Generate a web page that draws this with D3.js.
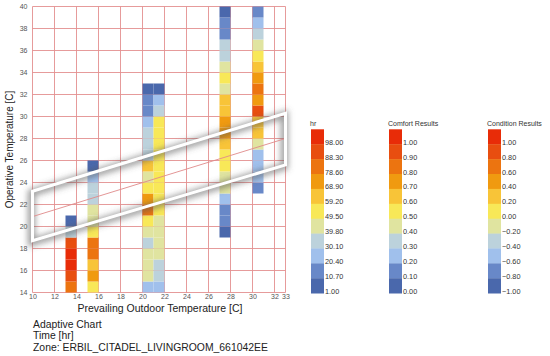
<!DOCTYPE html>
<html><head><meta charset="utf-8">
<script src="https://cdn.jsdelivr.net/npm/d3@7"></script>
<style>
body{margin:0;background:#fff;}
text{font-family:"Liberation Sans",Arial,sans-serif;}
</style></head>
<body><svg id="chart" width="550" height="356"></svg>
<script>
// ---- data ----
const outdoorBins = [13, 15, 20, 21, 27, 30];          // prevailing outdoor temp bin start [C]
const operativeStart = [14, 14, 14, 14, 19, 23];       // operative temp of lowest cell [C]
const hoursByColumn = [
  [79, 88, 98, 98, 88, 30, 1],
  [50, 69, 59, 79, 79, 50, 40, 40, 30, 30, 20, 1],
  [20, 38, 40, 40, 30, 40, 50, 79, 69, 50, 40, 59, 30, 30, 30, 20, 11, 11, 1],
  [20, 30, 30, 40, 40, 42, 40, 50, 50, 50, 50, 50, 50, 50, 50, 50, 32, 20, 1],
  [1, 11, 11, 20, 40, 40, 50, 50, 59, 69, 69, 59, 59, 42, 50, 40, 30, 30, 11, 11, 1],
  [11, 20, 20, 20, 40, 59, 59, 88, 69, 79, 69, 59, 50, 40, 30, 20, 11]
];
const comfortOutdoor = [10, 33];
const comfortUpper = [23.2, 30.3];
const comfortLower = [18.7, 25.6];
const comfortNeutral = [20.9, 28.0];
const xTickValues = [10, 12, 14, 16, 18, 20, 22, 24, 26, 28, 30, 32, 33];
const yTickValues = [14, 16, 18, 20, 22, 24, 26, 28, 30, 32, 34, 36, 38, 40];
const hrTicks = [1.00, 10.70, 20.40, 30.10, 39.80, 49.50, 59.20, 68.90, 78.60, 88.30, 98.00];
const comfortTicks = ["0.00","0.10","0.20","0.30","0.40","0.50","0.60","0.70","0.80","0.90","1.00"];
const conditionTicks = ["\u22121.00","\u22120.80","\u22120.60","\u22120.40","\u22120.20","0.00","0.20","0.40","0.60","0.80","1.00"];
const palette = ["#4a68ac","#6888c8","#a0c0ec","#bcd2dc","#e0e4a0","#f8e858","#f8c438","#f09a10","#ec7410","#e84e10","#e82c08"];

// ---- chart ----
const svg = d3.select("#chart");
svg.append("rect").attr("width",550).attr("height",356).attr("fill","#fff");
const x = d3.scaleLinear().domain([10,33]).range([32.5,285.5]);
const y = d3.scaleLinear().domain([14,40]).range([292.5,6.5]);
const thresholds = d3.pairs(hrTicks).map(([a,b]) => (a+b)/2);
const color = d3.scaleThreshold().domain(thresholds).range(palette);
const gridColor = "#e39090";

// grid
const grid = svg.append("g");
grid.selectAll("line.v").data(xTickValues).join("line")
  .attr("x1",d=>x(d)).attr("x2",d=>x(d)).attr("y1",y(14)).attr("y2",y(40))
  .attr("stroke",gridColor).attr("stroke-width",0.9);
grid.selectAll("line.h").data(yTickValues).join("line")
  .attr("x1",x(10)).attr("x2",x(33)).attr("y1",d=>y(d)).attr("y2",d=>y(d))
  .attr("stroke",gridColor).attr("stroke-width",0.9);

// cells
const cells = [];
outdoorBins.forEach((ob,i) => hoursByColumn[i].forEach((h,j) => cells.push({ob, op: operativeStart[i]+j, h})));
svg.append("g").selectAll("rect").data(cells).join("rect")
  .attr("x",d=>x(d.ob)).attr("width",d=>x(d.ob+1)-x(d.ob))
  .attr("y",d=>y(d.op+1)).attr("height",d=>y(d.op)-y(d.op+1))
  .attr("fill",d=>color(d.h));

// comfort polygon
const defs = svg.append("defs");
defs.append("filter").attr("id","blur").attr("x","-20%").attr("y","-20%").attr("width","140%").attr("height","140%")
  .append("feGaussianBlur").attr("stdDeviation",3.2);
const poly = [
  [comfortOutdoor[0],comfortUpper[0]],[comfortOutdoor[1],comfortUpper[1]],
  [comfortOutdoor[1],comfortLower[1]],[comfortOutdoor[0],comfortLower[0]]
];
const line = d3.line().x(d=>x(d[0])).y(d=>y(d[1]));
svg.append("path").attr("d",line(poly)+"Z").attr("fill","none")
  .attr("stroke","#555").attr("stroke-opacity",0.6).attr("stroke-width",7)
  .attr("filter","url(#blur)").attr("transform","translate(-1,1.5)");
svg.append("path").attr("d",line(comfortOutdoor.map((o,i)=>[o,comfortNeutral[i]])))
  .attr("stroke","#e08a8a").attr("stroke-width",0.9).attr("fill","none");
svg.append("path").attr("d",line(poly)+"Z").attr("fill","none")
  .attr("stroke","#fff").attr("stroke-width",3).attr("stroke-linejoin","miter");

// axes
const xAxis = svg.append("g").attr("transform",`translate(0,${y(14)})`)
  .call(d3.axisBottom(x).tickValues(xTickValues).tickSize(0).tickPadding(2).tickFormat(d3.format("d")));
const yAxis = svg.append("g").attr("transform",`translate(${x(10)},0)`)
  .call(d3.axisLeft(y).tickValues(yTickValues).tickSize(0).tickPadding(5).tickFormat(d3.format("d")));
[xAxis,yAxis].forEach(a=>{a.select(".domain").remove();
  a.selectAll("text").attr("font-size",7).attr("fill","#555").attr("font-family","Liberation Sans, Arial, sans-serif");});

svg.append("text").attr("transform",`translate(13,${(y(14)+y(40))/2}) rotate(-90)`)
  .attr("text-anchor","middle").attr("font-size",10).attr("fill","#222").text("Operative Temperature [C]");
svg.append("text").attr("x",160).attr("y",312).attr("text-anchor","middle")
  .attr("font-size",10.5).attr("fill","#222").text("Prevailing Outdoor Temperature [C]");
["Adaptive Chart","Time [hr]","Zone: ERBIL_CITADEL_LIVINGROOM_661042EE"].forEach((t,i)=>
  svg.append("text").attr("x",33).attr("y",328+i*11.3).attr("font-size",10.4).attr("fill","#222").text(t));

// legends
function legend(x0, title, labels){
  const g = svg.append("g");
  const top = 129.3, bh = 14.9, w = 13;
  g.append("text").attr("x",x0-1).attr("y",126).attr("font-size",7).attr("fill","#333").text(title);
  const rev = palette.slice().reverse();
  g.selectAll("rect").data(rev).join("rect")
    .attr("x",x0).attr("y",(d,i)=>top+i*bh).attr("width",w).attr("height",bh+0.3).attr("fill",d=>d);
  const lab = labels.slice().reverse();
  g.selectAll("text.l").data(lab).join("text").attr("class","l")
    .attr("x",x0+w+1).attr("y",(d,i)=>top+(i+1)*bh+0.5)
    .attr("font-size",7.3).attr("fill","#333").text(d=>d);
}
legend(311, "hr", hrTicks.map(d=>d3.format(".2f")(d)));
legend(389, "Comfort Results", comfortTicks);
legend(488, "Condition Results", conditionTicks);
</script></body></html>
